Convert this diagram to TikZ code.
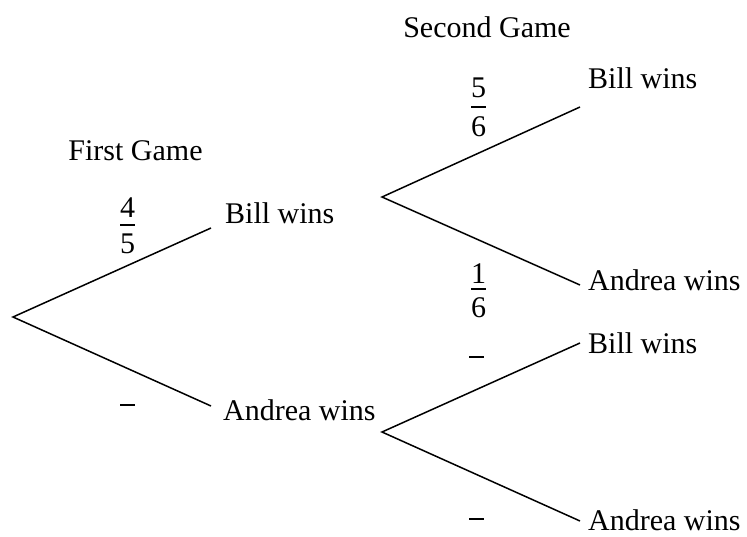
\documentclass[tikz,border=0pt]{standalone}
\usepackage{fontspec}
\setmainfont{Liberation Serif}
\begin{document}
\begin{tikzpicture}[x=1pt,y=-1pt,
  lbl/.style={inner sep=0pt,font=\fontsize{30}{36}\selectfont},
  branch/.style={line width=1.5pt},
  fbar/.style={line width=1.3pt}]
\useasboundingbox (0,0) rectangle (747,536);
% titles
\node[lbl,anchor=base] (t1) at (135.5,160) {First Game};
\node[lbl,anchor=base] (t2) at (487,37) {Second Game};
% outcome labels
\node[lbl,anchor=base west] (b1) at (225,223) {Bill wins};
\node[lbl,anchor=base west] (a1) at (223,420) {Andrea wins};
\node[lbl,anchor=base west] (b2) at (588,88) {Bill wins};
\node[lbl,anchor=base west] (a2) at (588,290) {Andrea wins};
\node[lbl,anchor=base west] (b3) at (588,353) {Bill wins};
\node[lbl,anchor=base west] (a3) at (588,530) {Andrea wins};
% branch points
\coordinate (r0) at (13,317);
\coordinate (e1) at (211,228);
\coordinate (e2) at (211,406);
\coordinate (r1) at (382,197);
\coordinate (e3) at (580,107);
\coordinate (e4) at (580,285);
\coordinate (r2) at (382,432);
\coordinate (e5) at (580,343);
\coordinate (e6) at (580,521);
\draw[branch] (e1) -- (r0) -- (e2);
\draw[branch] (e3) -- (r1) -- (e4);
\draw[branch] (e5) -- (r2) -- (e6);
% fractions
\node[lbl,anchor=base] (n1) at (127.5,217.5) {4};
\node[lbl,anchor=base] (d1) at (127.5,253) {5};
\coordinate (f1l) at (120,225); \coordinate (f1r) at (135,225);
\draw[fbar] (f1l) -- (f1r);
\node[lbl,anchor=base] (n2) at (478.5,97) {5};
\node[lbl,anchor=base] (d2) at (478.5,136) {6};
\coordinate (f2l) at (471,107); \coordinate (f2r) at (486,107);
\draw[fbar] (f2l) -- (f2r);
\node[lbl,anchor=base] (n3) at (478.5,283) {1};
\node[lbl,anchor=base] (d3) at (478.5,317) {6};
\coordinate (f3l) at (471,289); \coordinate (f3r) at (486,289);
\draw[fbar] (f3l) -- (f3r);
% empty bars
\coordinate (g1l) at (120,405); \coordinate (g1r) at (135,405);
\draw[fbar] (g1l) -- (g1r);
\coordinate (g2l) at (469,357); \coordinate (g2r) at (484,357);
\draw[fbar] (g2l) -- (g2r);
\coordinate (g3l) at (469,519); \coordinate (g3r) at (484,519);
\draw[fbar] (g3l) -- (g3r);
\end{tikzpicture}
\end{document}
